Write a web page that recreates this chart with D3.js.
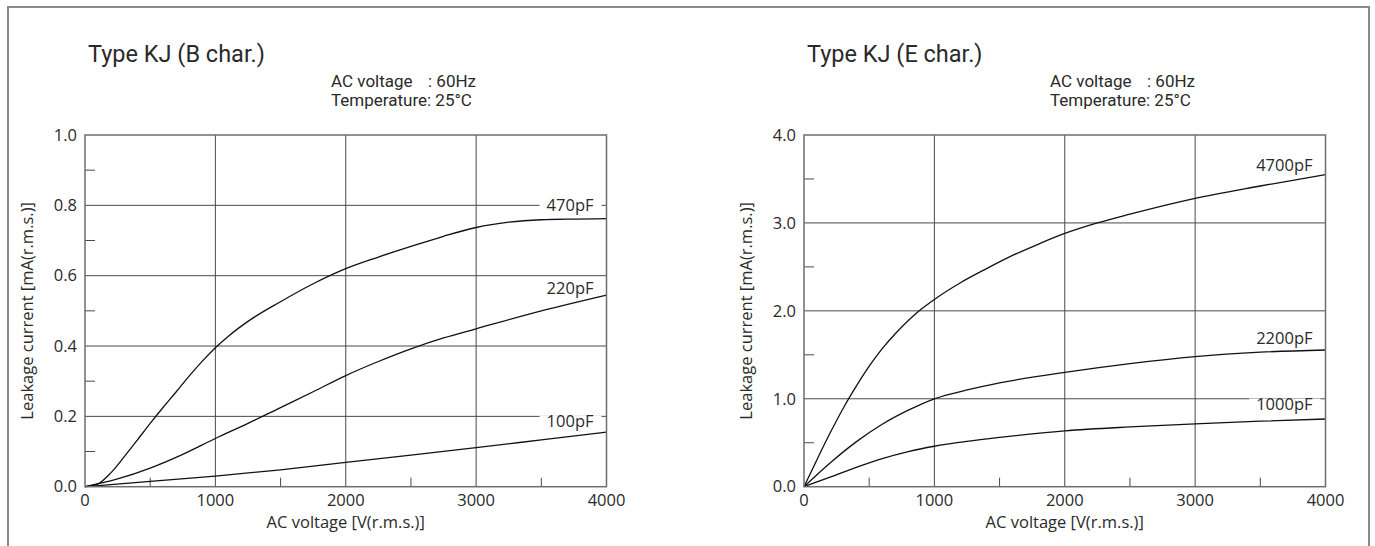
<!DOCTYPE html>
<html>
<head>
<meta charset="utf-8">
<script src="https://cdn.jsdelivr.net/npm/d3@7"></script>
<style>
  body { margin: 0; background: #fff; }
  svg { display: block; }
</style>
</head>
<body>
<svg width="1375" height="546"></svg>
<script>
// voltages (x) and leakage current readings (y) for every curve
const voltsB100 = [0, 500, 1000, 1500, 2000, 2500, 3000, 3500, 4000]
const currB100 = [0, 0.015, 0.03, 0.048, 0.069, 0.09, 0.111, 0.133, 0.155]
const voltsB220 = [0, 250, 500, 750, 1000, 1250, 1500, 1750, 2000, 2250, 2500, 2750, 3000, 3500, 4000]
const currB220 = [0, 0.022, 0.053, 0.092, 0.137, 0.18, 0.225, 0.27, 0.316, 0.356, 0.392, 0.423, 0.449, 0.5, 0.545]
const voltsB470 = [0, 100, 200, 300, 400, 500, 600, 700, 800, 900, 1000, 1100, 1250, 1500, 1750, 2000, 2250, 2500, 2750, 3000, 3250, 3500, 3750, 4000]
const currB470 = [0, 0.008, 0.04, 0.085, 0.132, 0.18, 0.226, 0.27, 0.315, 0.357, 0.395, 0.428, 0.47, 0.526, 0.577, 0.62, 0.653, 0.683, 0.712, 0.737, 0.752, 0.759, 0.761, 0.762]

const voltsE1000 = [0, 200, 400, 600, 800, 1000, 1250, 1500, 2000, 2500, 3000, 3500, 4000]
const currE1000 = [0, 0.11, 0.22, 0.32, 0.4, 0.46, 0.515, 0.56, 0.635, 0.68, 0.715, 0.745, 0.77]
const voltsE2200 = [0, 200, 400, 600, 800, 1000, 1250, 1500, 2000, 2500, 3000, 3500, 4000]
const currE2200 = [0, 0.27, 0.51, 0.71, 0.87, 1.0, 1.1, 1.18, 1.3, 1.4, 1.48, 1.53, 1.555]
const voltsE4700 = [0, 100, 200, 300, 400, 500, 600, 700, 800, 900, 1000, 1200, 1400, 1600, 1800, 2000, 2250, 2500, 3000, 3500, 4000]
const currE4700 = [0, 0.31, 0.61, 0.89, 1.14, 1.37, 1.57, 1.74, 1.89, 2.02, 2.13, 2.32, 2.48, 2.63, 2.76, 2.88, 3.0, 3.1, 3.28, 3.42, 3.55]

const xTicks = [0, 1000, 2000, 3000, 4000]
const xMinor = [500, 1500, 2500, 3500]
const yTicksB = [0, 0.2, 0.4, 0.6, 0.8, 1.0]
const yMinorB = [0.1, 0.3, 0.5, 0.7, 0.9]
const yTicksE = [0, 1, 2, 3, 4]
const yMinorE = [0.5, 1.5, 2.5, 3.5]

const zip = (xs, ys) => xs.map((v, i) => ({ v, c: ys[i] }))

const panels = [
  {
    title: 'Type KJ (B char.)',
    left: 85,
    yMax: 1.0,
    yTicks: yTicksB,
    yMinor: yMinorB,
    series: [
      { name: '470pF', data: zip(voltsB470, currB470), dy: -13.5, gap: true },
      { name: '220pF', data: zip(voltsB220, currB220), dy: -6.5, gap: false },
      { name: '100pF', data: zip(voltsB100, currB100), dy: -10.5, gap: true },
    ],
  },
  {
    title: 'Type KJ (E char.)',
    left: 804,
    yMax: 4.0,
    yTicks: yTicksE,
    yMinor: yMinorE,
    series: [
      { name: '4700pF', data: zip(voltsE4700, currE4700), dy: -9, gap: false },
      { name: '2200pF', data: zip(voltsE2200, currE2200), dy: -11.5, gap: false },
      { name: '1000pF', data: zip(voltsE1000, currE1000), dy: -14.5, gap: true },
    ],
  },
]

const svg = d3.select('svg')
const axisFont = "'Open Sans', sans-serif"
const titleFont = "Roboto, sans-serif"
const textColor = '#2a2a2a'
const fs = 16.5

// outer frame (open at the bottom)
svg.append('path')
  .attr('d', 'M8,546V7H1369V546')
  .attr('fill', 'none')
  .attr('stroke', '#8a8a8a')
  .attr('stroke-width', 2)

const plotW = 521.5
const plotTop = 135
const plotBottom = 486.7

panels.forEach((p) => {
  const g = svg.append('g')
  const x = d3.scaleLinear().domain([0, 4000]).range([p.left, p.left + plotW])
  const y = d3.scaleLinear().domain([0, p.yMax]).range([plotBottom, plotTop])

  g.append('text')
    .attr('x', p.left + 3)
    .attr('y', 62)
    .attr('font-family', titleFont)
    .attr('font-size', 23.5)
    .attr('fill', textColor)
    .text(p.title)

  const sub = g.append('text')
    .attr('font-family', titleFont)
    .attr('font-size', 17)
    .attr('fill', textColor)
  sub.append('tspan').attr('x', p.left + 246).attr('y', 87).text('AC voltage')
  sub.append('tspan').attr('x', p.left + 343).attr('y', 87).text(': 60Hz')
  sub.append('tspan').attr('x', p.left + 246).attr('y', 106).text('Temperature: 25°C')

  // grid lines
  g.append('g').selectAll('line').data(xTicks.slice(1, -1)).join('line')
    .attr('x1', (d) => x(d)).attr('x2', (d) => x(d))
    .attr('y1', plotTop).attr('y2', plotBottom)
    .attr('stroke', '#4a4a4a').attr('stroke-width', 1)
  g.append('g').selectAll('line').data(p.yTicks.slice(1, -1)).join('line')
    .attr('x1', x(0)).attr('x2', x(4000))
    .attr('y1', (d) => y(d)).attr('y2', (d) => y(d))
    .attr('stroke', '#4a4a4a').attr('stroke-width', 1)

  // minor ticks
  g.append('g').selectAll('line').data(p.yMinor).join('line')
    .attr('x1', x(0)).attr('x2', x(0) + 10)
    .attr('y1', (d) => y(d)).attr('y2', (d) => y(d))
    .attr('stroke', '#4a4a4a')
  g.append('g').selectAll('line').data(xMinor).join('line')
    .attr('x1', (d) => x(d)).attr('x2', (d) => x(d))
    .attr('y1', plotBottom).attr('y2', plotBottom - 9)
    .attr('stroke', '#4a4a4a')

  const line = d3.line()
    .x((d) => x(d.v))
    .y((d) => y(d.c))
    .curve(d3.curveMonotoneX)

  // curves and their labels; some labels sit on a grid line and break it
  p.series.forEach((s) => {
    const last = s.data[s.data.length - 1]
    const ly = y(last.c) + s.dy
    const t = g.append('text')
      .attr('x', x(4000) - 13)
      .attr('y', ly)
      .attr('dy', '0.35em')
      .attr('text-anchor', 'end')
      .attr('font-family', axisFont)
      .attr('font-size', fs)
      .attr('fill', textColor)
      .text(s.name)
    if (s.gap) {
      const w = t.node().getComputedTextLength()
      g.insert('rect', () => t.node())
        .attr('x', x(4000) - 13 - w - 7)
        .attr('y', ly - 6)
        .attr('width', w + 15)
        .attr('height', 12)
        .attr('fill', '#fff')
    }
    g.append('path')
      .attr('d', line(s.data))
      .attr('fill', 'none')
      .attr('stroke', '#111')
      .attr('stroke-width', 1.3)
  })

  // plot frame
  g.append('rect')
    .attr('x', x(0)).attr('y', plotTop)
    .attr('width', plotW).attr('height', plotBottom - plotTop)
    .attr('fill', 'none')
    .attr('stroke', '#6e6e6e')
    .attr('stroke-width', 1.5)

  // tick labels
  g.append('g').selectAll('text').data(xTicks).join('text')
    .attr('x', (d) => x(d))
    .attr('y', plotBottom + 19)
    .attr('text-anchor', 'middle')
    .attr('font-family', axisFont)
    .attr('font-size', fs)
    .attr('fill', textColor)
    .text((d) => d)
  g.append('g').selectAll('text').data(p.yTicks).join('text')
    .attr('x', x(0) - 8)
    .attr('y', (d) => y(d))
    .attr('dy', '0.35em')
    .attr('text-anchor', 'end')
    .attr('font-family', axisFont)
    .attr('font-size', fs)
    .attr('fill', textColor)
    .text(d3.format('.1f'))

  // axis titles
  g.append('text')
    .attr('x', x(2000))
    .attr('y', 528)
    .attr('text-anchor', 'middle')
    .attr('font-family', axisFont)
    .attr('font-size', fs)
    .attr('fill', textColor)
    .text('AC voltage [V(r.m.s.)]')
  g.append('text')
    .attr('transform', `translate(${p.left - 52},${(plotTop + plotBottom) / 2}) rotate(-90)`)
    .attr('text-anchor', 'middle')
    .attr('font-family', axisFont)
    .attr('font-size', fs)
    .attr('fill', textColor)
    .text('Leakage current [mA(r.m.s.)]')
})
</script>
</body>
</html>
